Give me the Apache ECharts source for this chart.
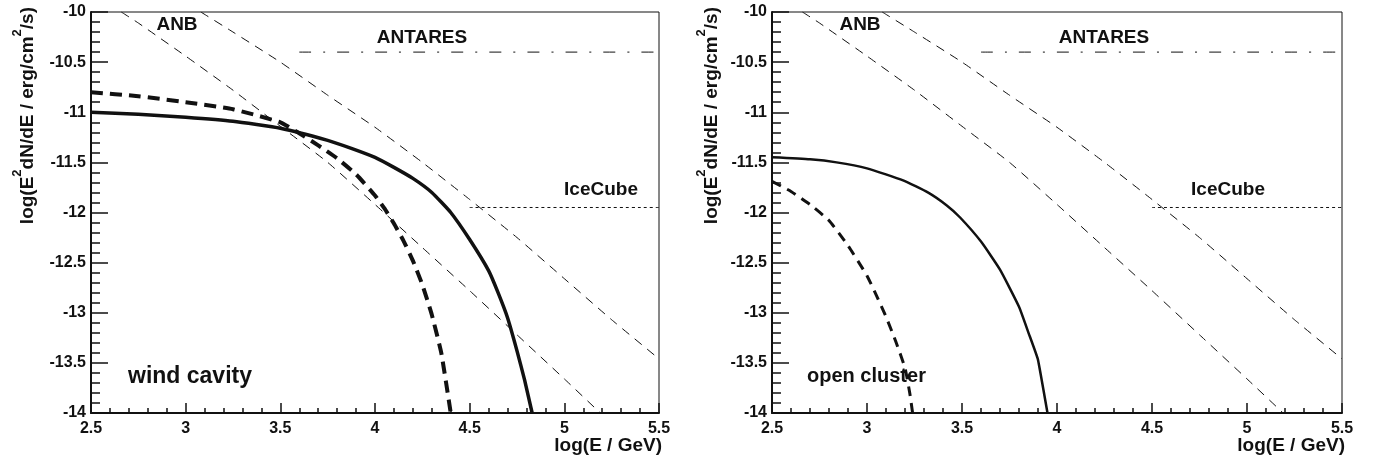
<!DOCTYPE html>
<html>
<head>
<meta charset="utf-8">
<script src="https://cdn.jsdelivr.net/npm/echarts@6/dist/echarts.min.js"></script>
<style>
html, body { margin: 0; padding: 0; background: #fff; }
#chart { width: 1377px; height: 466px; }
</style>
</head>
<body>
<div id="chart"></div>
<script>
// log(E/GeV), log(E^2 dN/dE) pairs
// same ANB / detector curves in both panels
const anbUpper = [[3.08, -10], [3.25, -10.2], [3.5, -10.5], [3.75, -10.83], [4.0, -11.15], [4.25, -11.5],
  [4.5, -11.87], [4.75, -12.25], [5.0, -12.66], [5.25, -13.07], [5.5, -13.46]]
const anbLower = [[2.66, -10], [2.75, -10.11], [3.0, -10.44], [3.25, -10.78], [3.5, -11.14], [3.75, -11.5],
  [4.0, -11.92], [4.25, -12.35], [4.5, -12.78], [4.75, -13.22], [5.0, -13.66], [5.19, -14.0]]
const antares = [[3.6, -10.4], [5.5, -10.4]]
const iceCube = [[4.5, -11.95], [5.5, -11.95]]

// wind cavity (left)
const windSolid = [[2.5, -11.0], [2.75, -11.02], [3.0, -11.05], [3.25, -11.09], [3.5, -11.16], [3.75, -11.28],
  [3.875, -11.36], [4.0, -11.45], [4.1, -11.55], [4.2, -11.66], [4.3, -11.8], [4.4, -12.0], [4.5, -12.27],
  [4.6, -12.58], [4.65, -12.8], [4.7, -13.05], [4.75, -13.38], [4.79, -13.67], [4.83, -14.0]]
const windDashed = [[2.5, -10.8], [2.75, -10.84], [3.0, -10.9], [3.25, -10.97], [3.5, -11.1], [3.6, -11.21],
  [3.7, -11.33], [3.8, -11.46], [3.9, -11.62], [4.0, -11.83], [4.05, -11.96], [4.1, -12.11], [4.15, -12.28],
  [4.2, -12.48], [4.25, -12.72], [4.3, -13.02], [4.35, -13.4], [4.4, -14.0]]

// open cluster (right)
const clusterSolid = [[2.5, -11.45], [2.7, -11.47], [2.84, -11.5], [3.0, -11.56], [3.19, -11.68], [3.32, -11.8],
  [3.42, -11.93], [3.49, -12.05], [3.6, -12.29], [3.7, -12.57], [3.8, -12.94], [3.85, -13.2], [3.9, -13.47],
  [3.95, -14.0]]
const clusterDashed = [[2.5, -11.69], [2.6, -11.79], [2.7, -11.92], [2.8, -12.08], [2.9, -12.33], [3.0, -12.63],
  [3.05, -12.83], [3.1, -13.04], [3.15, -13.28], [3.2, -13.55], [3.225, -13.8], [3.24, -14.0]]

const FONT = '"Liberation Sans", Arial, Helvetica, sans-serif'
const BLACK = '#111'

function xAxisOf (gridIndex) {
  return {
    type: 'value',
    gridIndex: gridIndex,
    min: 2.5,
    max: 5.5,
    interval: 0.5,
    axisLine: { onZero: false, lineStyle: { color: BLACK, width: 2 } },
    axisTick: { inside: true, length: 10, lineStyle: { color: BLACK, width: 1.5 } },
    minorTick: { show: true, splitNumber: 5, length: 5, lineStyle: { color: BLACK, width: 1.5 } },
    axisLabel: { color: BLACK, fontSize: 16, fontWeight: 'bold', fontFamily: FONT, margin: 8 },
    splitLine: { show: false }
  }
}

function yAxisOf (gridIndex) {
  return {
    type: 'value',
    gridIndex: gridIndex,
    min: -14,
    max: -10,
    interval: 0.5,
    axisLine: { onZero: false, lineStyle: { color: BLACK, width: 2 } },
    axisTick: { inside: true, length: 17, lineStyle: { color: BLACK, width: 1.5 } },
    minorTick: { show: true, splitNumber: 5, length: 9, lineStyle: { color: BLACK, width: 1.5 } },
    axisLabel: { color: BLACK, fontSize: 16, fontWeight: 'bold', fontFamily: FONT, margin: 5 },
    splitLine: { show: false }
  }
}

function line (data, idx, width, type) {
  return {
    type: 'line',
    xAxisIndex: idx,
    yAxisIndex: idx,
    data: data,
    showSymbol: false,
    symbol: 'none',
    smooth: 0.15,
    silent: true,
    lineStyle: { color: BLACK, width: width, type: type, cap: 'butt' }
  }
}

function label (text, x, y, size, align) {
  return {
    type: 'text',
    x: x,
    y: y,
    style: {
      text: text,
      fill: BLACK,
      fontSize: size,
      fontWeight: 'bold',
      fontFamily: FONT,
      align: align || 'center',
      verticalAlign: 'middle'
    }
  }
}

function yTitle (x) {
  return {
    type: 'text',
    x: x,
    y: 7,
    rotation: Math.PI / 2,
    style: {
      text: '{b|log(E}{s|2}{b|dN/dE / erg/cm}{s|2}{b|/s)}',
      fill: BLACK,
      align: 'right',
      verticalAlign: 'middle',
      rich: {
        b: { fontSize: 19, fontWeight: 'bold', fontFamily: FONT, lineHeight: 26, verticalAlign: 'bottom', fill: BLACK },
        s: { fontSize: 13, fontWeight: 'bold', fontFamily: FONT, lineHeight: 26, verticalAlign: 'top', fill: BLACK }
      }
    }
  }
}

const chart = echarts.init(document.getElementById('chart'))
chart.setOption({
  animation: false,
  backgroundColor: '#fff',
  grid: [
    { left: 91, top: 12, width: 568, height: 401, show: true, borderColor: BLACK, borderWidth: 1 },
    { left: 772, top: 12, width: 570, height: 401, show: true, borderColor: BLACK, borderWidth: 1 }
  ],
  xAxis: [xAxisOf(0), xAxisOf(1)],
  yAxis: [yAxisOf(0), yAxisOf(1)],
  series: [
    line(anbUpper, 0, 1, [9, 7]),
    line(anbLower, 0, 1, [9, 7]),
    line(antares, 0, 1, [12, 12, 2, 12]),
    line(iceCube, 0, 1, [3, 3]),
    line(windSolid, 0, 3.5, 'solid'),
    line(windDashed, 0, 4, [12, 7]),
    line(anbUpper, 1, 1, [9, 7]),
    line(anbLower, 1, 1, [9, 7]),
    line(antares, 1, 1, [12, 12, 2, 12]),
    line(iceCube, 1, 1, [3, 3]),
    line(clusterSolid, 1, 2.5, 'solid'),
    line(clusterDashed, 1, 3, [10, 7])
  ],
  graphic: [
    label('ANB', 177, 25, 19),
    label('ANTARES', 422, 38, 19),
    label('IceCube', 601, 190, 19),
    label('wind cavity', 128, 377, 23, 'left'),
    label('log(E / GeV)', 662, 446, 19, 'right'),
    yTitle(24),
    label('ANB', 860, 25, 19),
    label('ANTARES', 1104, 38, 19),
    label('IceCube', 1228, 190, 19),
    label('open cluster', 807, 376, 20, 'left'),
    label('log(E / GeV)', 1345, 446, 19, 'right'),
    yTitle(708)
  ]
})
</script>
</body>
</html>
